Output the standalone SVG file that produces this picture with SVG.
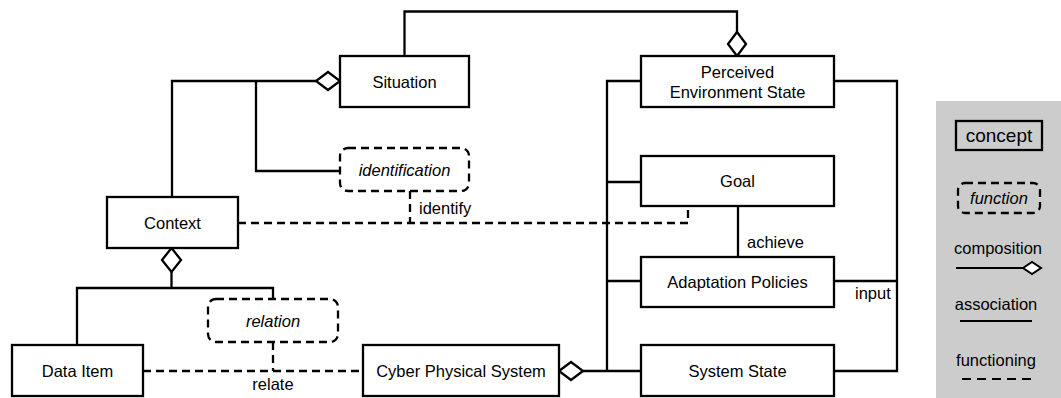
<svg xmlns="http://www.w3.org/2000/svg" width="1061" height="398" viewBox="0 0 1061 398">
<style>
.box{fill:#fff;stroke:#000;stroke-width:2.3}
.fn{fill:#fff;stroke:#000;stroke-width:2.3;stroke-dasharray:8 5}
.ln{fill:none;stroke:#000;stroke-width:2.3}
.dl{fill:none;stroke:#000;stroke-width:2.3;stroke-dasharray:8 5}
.dia{fill:#fff;stroke:#000;stroke-width:2.3;stroke-linejoin:miter}
text{font-family:"Liberation Sans",Arial,Helvetica,sans-serif;font-size:16.5px;fill:#000}
.c{text-anchor:middle;dominant-baseline:central}
.i{font-style:italic}
</style>
<rect x="0" y="0" width="1061" height="398" fill="#fff"/>
<g id="connectors">
<polyline class="ln" points="404.5,56 404.5,11.5 737,11.5 737,32"/>
<polygon class="dia" points="737,32 746,44 737,56 728,44"/>
<polyline class="ln" points="316,81 172,81 172,197"/>
<polygon class="dia" points="340,81 328,90 316,81 328,72"/>
<polyline class="ln" points="256,81 256,171 340,171"/>
<polyline class="dl" points="410,191 410,223"/>
<polyline class="dl" points="238,223 688,223 688,206"/>
<polygon class="dia" points="171.5,248 181,260 171.5,272 162,260"/>
<polyline class="ln" points="171.5,272 171.5,288"/>
<polyline class="ln" points="77,345 77,288 273,288 273,299"/>
<polyline class="dl" points="273,342 273,371"/>
<polyline class="dl" points="143,371 363,371"/>
<polygon class="dia" points="559,371 571,362 583,371 571,380"/>
<polyline class="ln" points="583,371 641,371"/>
<polyline class="ln" points="641,81 607,81 607,371"/>
<polyline class="ln" points="607,182 641,182"/>
<polyline class="ln" points="607,281 641,281"/>
<polyline class="ln" points="834,81 897,81 897,371 834,371"/>
<polyline class="ln" points="834,281 897,281"/>
<polyline class="ln" points="738,206 738,257"/>
<text x="419" y="214">identify</text>
<text x="273" y="390" text-anchor="middle">relate</text>
<text x="747" y="248">achieve</text>
<text x="855" y="299">input</text>
</g>
<g id="situation"><rect class="box" x="340" y="56" width="129" height="51"/><text class="c" x="404.5" y="81.5">Situation</text></g>
<g id="perceived"><rect class="box" x="641" y="56" width="193" height="51"/><text class="c" x="737.5" y="72">Perceived</text><text class="c" x="737.5" y="92">Environment State</text></g>
<g id="identification"><rect class="fn" x="340" y="148" width="129" height="43" rx="8"/><text class="c i" x="404.5" y="170">identification</text></g>
<g id="goal"><rect class="box" x="641" y="156" width="193" height="50"/><text class="c" x="737.5" y="181">Goal</text></g>
<g id="context"><rect class="box" x="107" y="197" width="131" height="51"/><text class="c" x="172.5" y="223">Context</text></g>
<g id="adaptation"><rect class="box" x="641" y="257" width="193" height="50"/><text class="c" x="737.5" y="282">Adaptation Policies</text></g>
<g id="relation"><rect class="fn" x="208" y="299" width="130" height="43" rx="8"/><text class="c i" x="273" y="321">relation</text></g>
<g id="dataitem"><rect class="box" x="12" y="345" width="131" height="51"/><text class="c" x="77.5" y="371">Data Item</text></g>
<g id="cps"><rect class="box" x="363" y="345" width="196" height="51"/><text class="c" x="461" y="371">Cyber Physical System</text></g>
<g id="systemstate"><rect class="box" x="641" y="345" width="193" height="51"/><text class="c" x="737.5" y="371">System State</text></g>
<g id="legend">
<rect x="936" y="101" width="125" height="297" fill="#cccccc"/>
<rect class="box" x="956" y="121" width="86" height="29" style="fill:none"/>
<text class="c" x="999" y="135.5" style="font-size:19px">concept</text>
<rect class="fn" x="958" y="183" width="82" height="30" rx="7" style="fill:none"/>
<text class="c i" x="999" y="198">function</text>
<text class="c" x="998" y="248">composition</text>
<line class="ln" x1="956" y1="268" x2="1023" y2="268" style="stroke-width:2"/>
<polygon class="dia" points="1023,268 1032,262 1041,268 1032,274" style="stroke-width:2"/>
<text class="c" x="996" y="304">association</text>
<line class="ln" x1="960" y1="321" x2="1032" y2="321" style="stroke-width:2"/>
<text class="c" x="996" y="360">functioning</text>
<line class="dl" x1="962" y1="379" x2="1034" y2="379" style="stroke-width:2;stroke-dasharray:9 6"/>
</g>
</svg>
